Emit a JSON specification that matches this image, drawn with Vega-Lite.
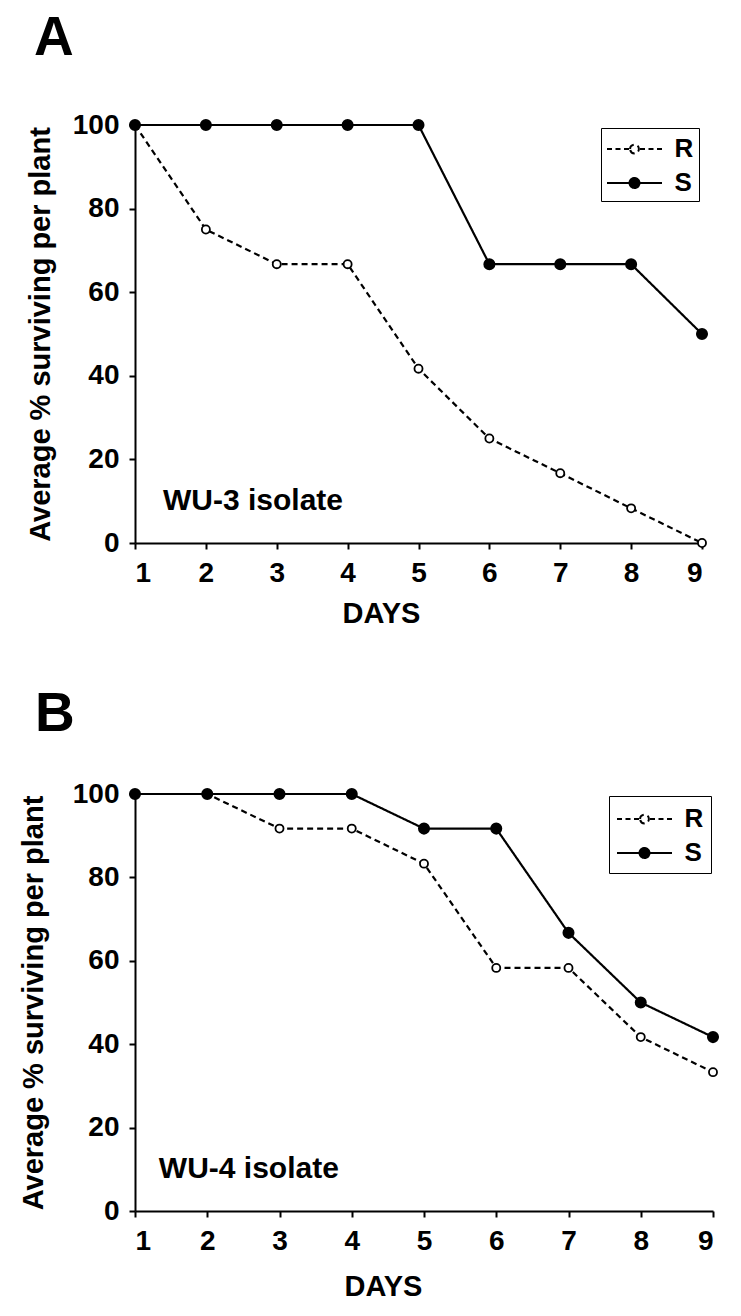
{
  "$schema": "https://vega.github.io/schema/vega-lite/v6.json",
  "background": "white",
  "padding": {"left": 19, "top": 11, "right": 5, "bottom": 5},
  "columns": 1,
  "align": "none",
  "spacing": 59,
  "resolve": {"scale": {"strokeDash": "independent", "x": "independent", "y": "independent"}, "legend": {"strokeDash": "independent"}},
  "datasets": {
    "pts": [
      {"panel": "A", "series": "R", "day": 1, "value": 100},
      {"panel": "A", "series": "R", "day": 2, "value": 75},
      {"panel": "A", "series": "R", "day": 3, "value": 66.7},
      {"panel": "A", "series": "R", "day": 4, "value": 66.7},
      {"panel": "A", "series": "R", "day": 5, "value": 41.7},
      {"panel": "A", "series": "R", "day": 6, "value": 25},
      {"panel": "A", "series": "R", "day": 7, "value": 16.7},
      {"panel": "A", "series": "R", "day": 8, "value": 8.3},
      {"panel": "A", "series": "R", "day": 9, "value": 0},
      {"panel": "A", "series": "S", "day": 1, "value": 100},
      {"panel": "A", "series": "S", "day": 2, "value": 100},
      {"panel": "A", "series": "S", "day": 3, "value": 100},
      {"panel": "A", "series": "S", "day": 4, "value": 100},
      {"panel": "A", "series": "S", "day": 5, "value": 100},
      {"panel": "A", "series": "S", "day": 6, "value": 66.7},
      {"panel": "A", "series": "S", "day": 7, "value": 66.7},
      {"panel": "A", "series": "S", "day": 8, "value": 66.7},
      {"panel": "A", "series": "S", "day": 9, "value": 50},
      {"panel": "B", "series": "R", "day": 1, "value": 100},
      {"panel": "B", "series": "R", "day": 2, "value": 100},
      {"panel": "B", "series": "R", "day": 3, "value": 91.7},
      {"panel": "B", "series": "R", "day": 4, "value": 91.7},
      {"panel": "B", "series": "R", "day": 5, "value": 83.3},
      {"panel": "B", "series": "R", "day": 6, "value": 58.3},
      {"panel": "B", "series": "R", "day": 7, "value": 58.3},
      {"panel": "B", "series": "R", "day": 8, "value": 41.7},
      {"panel": "B", "series": "R", "day": 9, "value": 33.3},
      {"panel": "B", "series": "S", "day": 1, "value": 100},
      {"panel": "B", "series": "S", "day": 2, "value": 100},
      {"panel": "B", "series": "S", "day": 3, "value": 100},
      {"panel": "B", "series": "S", "day": 4, "value": 100},
      {"panel": "B", "series": "S", "day": 5, "value": 91.7},
      {"panel": "B", "series": "S", "day": 6, "value": 91.7},
      {"panel": "B", "series": "S", "day": 7, "value": 66.7},
      {"panel": "B", "series": "S", "day": 8, "value": 50},
      {"panel": "B", "series": "S", "day": 9, "value": 41.7}
    ],
    "lab": [
      {"panel": "A", "x": 1.395, "y": 7.9, "label": "WU-3 isolate"},
      {"panel": "B", "x": 1.33, "y": 7.9, "label": "WU-4 isolate"}
    ]
  },
  "config": {
    "view": {"stroke": null},
    "font": "Liberation Sans",
    "axis": {
      "grid": false,
      "domainColor": "black",
      "domainWidth": 2,
      "tickColor": "black",
      "tickWidth": 2,
      "tickSize": 6,
      "labelFont": "Liberation Sans",
      "labelFontSize": 28,
      "labelFontWeight": "bold",
      "labelColor": "black",
      "titleFont": "Liberation Sans",
      "titleFontSize": 29,
      "titleFontWeight": "bold",
      "titleColor": "black"
    },
    "legend": {
      "orient": "top-right",
      "strokeColor": "black",
      "fillColor": "white",
      "padding": 5,
      "labelFont": "Liberation Sans",
      "labelFontSize": 26,
      "labelFontWeight": "bold",
      "labelColor": "black",
      "labelOffset": 24,
      "symbolOffset": 12.5,
      "symbolSize": 900,
      "symbolStrokeWidth": 2,
      "symbolStrokeColor": "black",
      "rowPadding": 5
    }
  },
  "concat": [
    {
      "width": 567,
      "height": 418,
      "title": {"text": "A", "anchor": "start", "frame": "group", "dx": -101, "offset": 44, "fontSize": 55, "fontWeight": "bold", "color": "black", "font": "Liberation Sans"},
      "layer": [
        {
          "data": {"name": "pts"},
          "transform": [{"filter": "datum.panel === 'A'"}],
          "mark": {"type": "line", "strokeWidth": 2.2, "color": "black"},
          "encoding": {
            "x": {"field": "day", "type": "quantitative", "scale": {"domain": [1, 9], "nice": false, "zero": false},
                  "axis": {"values": [1, 2, 3, 4, 5, 6, 7, 8, 9], "format": "d", "title": "DAYS", "labelPadding": 10, "titlePadding": 12, "titleX": 246}},
            "y": {"field": "value", "type": "quantitative", "scale": {"domain": [0, 100], "nice": false},
                  "axis": {"values": [0, 20, 40, 60, 80, 100], "title": "Average % surviving per plant", "labelPadding": 10, "titlePadding": 17}},
            "strokeDash": {"field": "series", "type": "nominal",
                           "scale": {"domain": ["R", "S"], "range": [[6, 4], [1, 0]]},
                           "legend": {"title": null, "offset": 3,
                                      "encode": {"symbols": {"update": {
                                        "shape": {"signal": "datum.value === 'R' ? 'M-1.833,0L-1.5,0M-1.267,0L-0.933,0M-0.7,0L-0.367,0M0.367,0L0.7,0M0.933,0L1.267,0M1.5,0L1.833,0M-0.293,0A0.293,0.293,0,1,1,0.293,0A0.293,0.293,0,1,1,-0.293,0Z' : 'M-1.833,0L1.833,0M-0.333,0A0.333,0.333,0,1,1,0.333,0A0.333,0.333,0,1,1,-0.333,0Z'"},
                                        "fill": {"signal": "datum.value === 'R' ? 'white' : 'black'"},
                                        "stroke": {"value": "black"},
                                        "strokeWidth": {"value": 2},
                                        "strokeDash": {"value": [1, 0]}
                                      }}}}}
          }
        },
        {
          "data": {"name": "pts"},
          "transform": [{"filter": "datum.panel === 'A'"}],
          "mark": {"type": "point", "filled": true, "stroke": "black", "strokeWidth": 1.8, "opacity": 1},
          "encoding": {
            "x": {"field": "day", "type": "quantitative"},
            "y": {"field": "value", "type": "quantitative"},
            "fill": {"condition": {"test": "datum.series === 'R'", "value": "white"}, "value": "black"},
            "size": {"condition": {"test": "datum.series === 'R'", "value": 65}, "value": 105}
          }
        },
        {
          "data": {"name": "lab"},
          "transform": [{"filter": "datum.panel === 'A'"}],
          "mark": {"type": "text", "align": "left", "baseline": "alphabetic", "fontSize": 30, "fontWeight": "bold", "color": "black", "font": "Liberation Sans"},
          "encoding": {
            "x": {"field": "x", "type": "quantitative"},
            "y": {"field": "y", "type": "quantitative"},
            "text": {"field": "label"}
          }
        }
      ]
    },
    {
      "width": 578,
      "height": 417,
      "title": {"text": "B", "anchor": "start", "frame": "group", "dx": -100, "offset": 37, "fontSize": 55, "fontWeight": "bold", "color": "black", "font": "Liberation Sans"},
      "layer": [
        {
          "data": {"name": "pts"},
          "transform": [{"filter": "datum.panel === 'B'"}],
          "mark": {"type": "line", "strokeWidth": 2.2, "color": "black"},
          "encoding": {
            "x": {"field": "day", "type": "quantitative", "scale": {"domain": [1, 9], "nice": false, "zero": false},
                  "axis": {"values": [1, 2, 3, 4, 5, 6, 7, 8, 9], "format": "d", "title": "DAYS", "labelPadding": 10, "titlePadding": 17, "titleX": 248}},
            "y": {"field": "value", "type": "quantitative", "scale": {"domain": [0, 100], "nice": false},
                  "axis": {"values": [0, 20, 40, 60, 80, 100], "title": "Average % surviving per plant", "labelPadding": 10, "titlePadding": 24}},
            "strokeDash": {"field": "series", "type": "nominal",
                           "scale": {"domain": ["R", "S"], "range": [[6, 4], [1, 0]]},
                           "legend": {"title": null, "offset": 2, "padding": 7,
                                      "encode": {"symbols": {"update": {
                                        "shape": {"signal": "datum.value === 'R' ? 'M-1.833,0L-1.5,0M-1.267,0L-0.933,0M-0.7,0L-0.367,0M0.367,0L0.7,0M0.933,0L1.267,0M1.5,0L1.833,0M-0.293,0A0.293,0.293,0,1,1,0.293,0A0.293,0.293,0,1,1,-0.293,0Z' : 'M-1.833,0L1.833,0M-0.333,0A0.333,0.333,0,1,1,0.333,0A0.333,0.333,0,1,1,-0.333,0Z'"},
                                        "fill": {"signal": "datum.value === 'R' ? 'white' : 'black'"},
                                        "stroke": {"value": "black"},
                                        "strokeWidth": {"value": 2},
                                        "strokeDash": {"value": [1, 0]}
                                      }}}}}
          }
        },
        {
          "data": {"name": "pts"},
          "transform": [{"filter": "datum.panel === 'B'"}],
          "mark": {"type": "point", "filled": true, "stroke": "black", "strokeWidth": 1.8, "opacity": 1},
          "encoding": {
            "x": {"field": "day", "type": "quantitative"},
            "y": {"field": "value", "type": "quantitative"},
            "fill": {"condition": {"test": "datum.series === 'R'", "value": "white"}, "value": "black"},
            "size": {"condition": {"test": "datum.series === 'R'", "value": 65}, "value": 105}
          }
        },
        {
          "data": {"name": "lab"},
          "transform": [{"filter": "datum.panel === 'B'"}],
          "mark": {"type": "text", "align": "left", "baseline": "alphabetic", "fontSize": 30, "fontWeight": "bold", "color": "black", "font": "Liberation Sans"},
          "encoding": {
            "x": {"field": "x", "type": "quantitative"},
            "y": {"field": "y", "type": "quantitative"},
            "text": {"field": "label"}
          }
        }
      ]
    }
  ]
}
